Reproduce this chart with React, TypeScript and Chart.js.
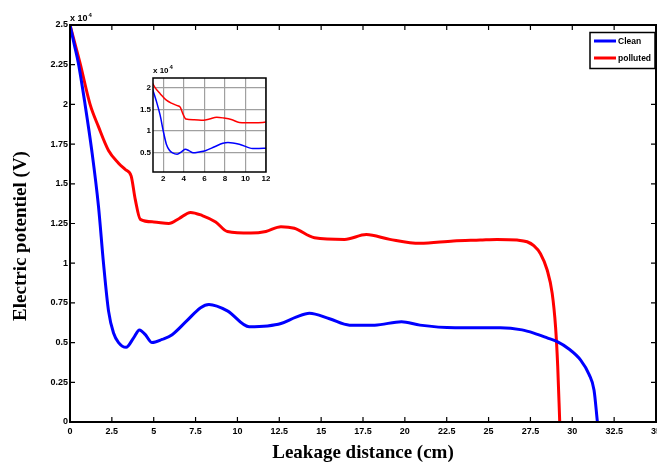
import { useEffect, useRef } from "react";
import { Chart, registerables } from "chart.js";

Chart.register(...registerables);

// Leakage distance (cm) and electric potential (V) along the insulator surface
const distanceClean = [
  0, 0.25, 0.5, 0.9, 1.3, 1.7, 2.0, 2.3, 2.6, 2.9, 3.35, 3.8, 4.15, 4.5, 4.9, 5.5, 6.1, 7.0, 7.8,
  8.3, 9.4, 10.7, 11.8, 12.6, 13.5, 14.3, 15.5, 16.7, 18.2, 19.8, 20.9, 23.0, 25.7, 27.0, 27.7,
  28.5, 29.1, 29.8, 30.5, 31.0, 31.3, 31.5,
];
const potentialClean = [
  25000, 23800, 22600, 20000, 17100, 13600, 10000, 7000, 5600, 5000, 4700, 5300, 5800, 5500, 5000,
  5200, 5500, 6400, 7200, 7400, 7000, 6000, 6050, 6200, 6600, 6850, 6500, 6100, 6100, 6320, 6100,
  5940, 5940, 5800, 5600, 5300, 5060, 4600, 3900, 3000, 2000, 0,
];
const distancePolluted = [
  0, 0.6, 1.2, 1.7, 2.3, 2.9, 3.3, 3.65, 3.9, 4.2, 5.0, 5.9, 6.5, 7.2, 7.9, 8.7, 9.4, 10.8, 11.7,
  12.6, 13.4, 14.6, 16.4, 17.7, 19.1, 20.9, 22.9, 24.5, 25.5, 26.7, 27.3, 27.7, 28.1, 28.5, 28.8,
  29.0, 29.13, 29.25,
];
const potentialPolluted = [
  25000, 22600, 20000, 18600, 17100, 16300, 15900, 15500, 14000, 12760, 12600, 12500, 12800, 13200,
  13000, 12600, 12000, 11900, 12000, 12300, 12200, 11600, 11500, 11800, 11500, 11250, 11400, 11460,
  11500, 11460, 11350, 11100, 10600, 9570, 8100, 6000, 3500, 0,
];

const seriesLabels = ["Clean", "polluted"];
const seriesColors = ["#0000ff", "#ff0000"];

const mainXTicks = [0, 2.5, 5, 7.5, 10, 12.5, 15, 17.5, 20, 22.5, 25, 27.5, 30, 32.5, 35];
const mainYTicks = [0, 2500, 5000, 7500, 10000, 12500, 15000, 17500, 20000, 22500, 25000];
const insetXTicks = [2, 4, 6, 8, 10, 12];
const insetYTicks = [5000, 10000, 15000, 20000];

const xTitle = "Leakage distance (cm)";
const yTitle = "Electric potentiel (V)";

const SANS = "'Liberation Sans', Arial, Helvetica, sans-serif";
const SERIF = "'Liberation Serif', 'Times New Roman', serif";

const toPoints = (xs: number[], ys: number[]) => xs.map((x, i) => ({ x, y: ys[i] }));
const fmt10k = (v: number) => String(Math.round((v / 10000) * 100) / 100);

function drawExponent(ctx: CanvasRenderingContext2D, x: number, y: number, size: number) {
  ctx.save();
  ctx.fillStyle = "#000";
  ctx.textAlign = "left";
  ctx.textBaseline = "alphabetic";
  ctx.font = `bold ${size}px ${SANS}`;
  ctx.fillText("x 10", x, y);
  const w = ctx.measureText("x 10").width;
  ctx.font = `bold ${Math.round(size * 0.7)}px ${SANS}`;
  ctx.fillText("4", x + w + 1, y - size * 0.45);
  ctx.restore();
}

const mainFrame = {
  id: "mainFrame",
  afterDraw(chart: any) {
    const { ctx, chartArea: a, scales } = chart;
    ctx.save();
    ctx.strokeStyle = "#000";
    ctx.lineWidth = 1.2;
    const t = 5;
    ctx.beginPath();
    mainXTicks.forEach((v) => {
      const px = scales.x.getPixelForValue(v);
      if (px <= a.left + 1 || px >= a.right - 1) return;
      ctx.moveTo(px, a.bottom);
      ctx.lineTo(px, a.bottom - t);
      ctx.moveTo(px, a.top);
      ctx.lineTo(px, a.top + t);
    });
    mainYTicks.forEach((v) => {
      const py = scales.y.getPixelForValue(v);
      if (py <= a.top + 1 || py >= a.bottom - 1) return;
      ctx.moveTo(a.left, py);
      ctx.lineTo(a.left + t, py);
      ctx.moveTo(a.right, py);
      ctx.lineTo(a.right - t, py);
    });
    ctx.stroke();
    ctx.lineWidth = 2;
    ctx.strokeRect(a.left, a.top, a.right - a.left, a.bottom - a.top);

    drawExponent(ctx, a.left, a.top - 4, 9);

    // vertical axis title
    ctx.save();
    ctx.translate(21.5, 236);
    ctx.rotate(-Math.PI / 2);
    ctx.fillStyle = "#000";
    ctx.font = `bold 19px ${SERIF}`;
    ctx.textAlign = "center";
    ctx.textBaseline = "middle";
    ctx.fillText(yTitle, 0, 0);
    ctx.restore();

    // legend box
    const bx = a.right - 66;
    const by = a.top + 7.5;
    const bw = 65;
    const bh = 36;
    ctx.fillStyle = "#fff";
    ctx.fillRect(bx, by, bw, bh);
    ctx.lineWidth = 1.5;
    ctx.strokeStyle = "#000";
    ctx.strokeRect(bx, by, bw, bh);
    chart.data.datasets.forEach((ds: any, i: number) => {
      const ly = by + 8.5 + i * 17;
      ctx.strokeStyle = ds.borderColor;
      ctx.lineWidth = 3;
      ctx.beginPath();
      ctx.moveTo(bx + 4, ly);
      ctx.lineTo(bx + 26, ly);
      ctx.stroke();
      ctx.fillStyle = "#000";
      ctx.font = `bold 8.5px ${SANS}`;
      ctx.textAlign = "left";
      ctx.textBaseline = "middle";
      ctx.fillText(ds.label, bx + 28, ly + 0.5);
    });
    ctx.restore();
  },
};

const insetFrame = {
  id: "insetFrame",
  beforeDraw(chart: any) {
    const { ctx, chartArea: a } = chart;
    ctx.save();
    ctx.fillStyle = "#fff";
    ctx.fillRect(a.left, a.top, a.right - a.left, a.bottom - a.top);
    ctx.restore();
  },
  afterDraw(chart: any) {
    const { ctx, chartArea: a } = chart;
    ctx.save();
    ctx.strokeStyle = "#000";
    ctx.lineWidth = 1.5;
    ctx.strokeRect(a.left, a.top, a.right - a.left, a.bottom - a.top);
    drawExponent(ctx, a.left, a.top - 5, 8);
    ctx.restore();
  },
};

function makeDatasets(width: number) {
  return [
    {
      label: seriesLabels[0],
      data: toPoints(distanceClean, potentialClean),
      borderColor: seriesColors[0],
      borderWidth: width,
      pointRadius: 0,
      cubicInterpolationMode: "monotone" as const,
    },
    {
      label: seriesLabels[1],
      data: toPoints(distancePolluted, potentialPolluted),
      borderColor: seriesColors[1],
      borderWidth: width,
      pointRadius: 0,
      cubicInterpolationMode: "monotone" as const,
    },
  ];
}

export default function App() {
  const mainRef = useRef<HTMLCanvasElement | null>(null);
  const insetRef = useRef<HTMLCanvasElement | null>(null);

  useEffect(() => {
    const tickFont = { family: SANS, weight: "bold" as const, size: 9 };

    const main = new Chart(mainRef.current!, {
      type: "line",
      data: { datasets: makeDatasets(3) },
      options: {
        animation: false,
        responsive: false,
        events: [],
        layout: { padding: { top: 25, right: 1, left: 0, bottom: 0 } },
        plugins: { legend: { display: false }, tooltip: { enabled: false } },
        scales: {
          x: {
            type: "linear",
            min: 0,
            max: 35,
            afterBuildTicks: (s: any) => {
              s.ticks = mainXTicks.map((value) => ({ value }));
            },
            afterFit: (s: any) => {
              s.height = 44;
              s.paddingLeft = 0;
              s.paddingRight = 0;
            },
            grid: { display: false, drawTicks: false },
            border: { display: false },
            ticks: {
              color: "#000",
              font: tickFont,
              padding: 4,
              maxRotation: 0,
              autoSkip: false,
              callback: (v: any) => String(v),
            },
            title: {
              display: true,
              text: xTitle,
              color: "#000",
              font: { family: SERIF, weight: "bold", size: 19 },
              padding: { top: 0, bottom: 2 },
            },
          },
          y: {
            type: "linear",
            min: 0,
            max: 25000,
            afterBuildTicks: (s: any) => {
              s.ticks = mainYTicks.map((value) => ({ value }));
            },
            afterFit: (s: any) => {
              s.width = 70;
              s.paddingTop = 0;
              s.paddingBottom = 0;
            },
            grid: { display: false, drawTicks: false },
            border: { display: false },
            ticks: {
              color: "#000",
              font: tickFont,
              padding: 2,
              autoSkip: false,
              callback: (v: any) => fmt10k(Number(v)),
            },
          },
        },
      },
      plugins: [mainFrame],
    } as any);

    const inset = new Chart(insetRef.current!, {
      type: "line",
      data: { datasets: makeDatasets(1.5) },
      options: {
        animation: false,
        responsive: false,
        events: [],
        layout: { padding: { top: 18, right: 4, left: 0, bottom: 0 } },
        plugins: { legend: { display: false }, tooltip: { enabled: false } },
        scales: {
          x: {
            type: "linear",
            min: 1,
            max: 12,
            afterBuildTicks: (s: any) => {
              s.ticks = insetXTicks.map((value) => ({ value }));
            },
            afterFit: (s: any) => {
              s.height = 16;
              s.paddingLeft = 0;
              s.paddingRight = 0;
            },
            grid: { color: "#a0a0a0", lineWidth: 1.2, drawTicks: false },
            border: { display: false },
            ticks: {
              color: "#000",
              font: { family: SANS, weight: "bold", size: 8 },
              padding: 2,
              maxRotation: 0,
              autoSkip: false,
              callback: (v: any) => String(v),
            },
          },
          y: {
            type: "linear",
            min: 600,
            max: 22200,
            afterBuildTicks: (s: any) => {
              s.ticks = insetYTicks.map((value) => ({ value }));
            },
            afterFit: (s: any) => {
              s.width = 31;
              s.paddingTop = 0;
              s.paddingBottom = 0;
            },
            grid: { color: "#a0a0a0", lineWidth: 1.2, drawTicks: false },
            border: { display: false },
            ticks: {
              color: "#000",
              font: { family: SANS, weight: "bold", size: 8 },
              padding: 2,
              autoSkip: false,
              callback: (v: any) => fmt10k(Number(v)),
            },
          },
        },
      },
      plugins: [insetFrame],
    } as any);

    return () => {
      main.destroy();
      inset.destroy();
    };
  }, []);

  return (
    <div style={{ position: "fixed", left: 0, top: 0, width: 657, height: 466, background: "#fff" }}>
      <canvas ref={mainRef} width={657} height={466} style={{ position: "absolute", left: 0, top: 0 }} />
      <canvas
        ref={insetRef}
        width={148}
        height={128}
        style={{ position: "absolute", left: 122, top: 60 }}
      />
    </div>
  );
}
